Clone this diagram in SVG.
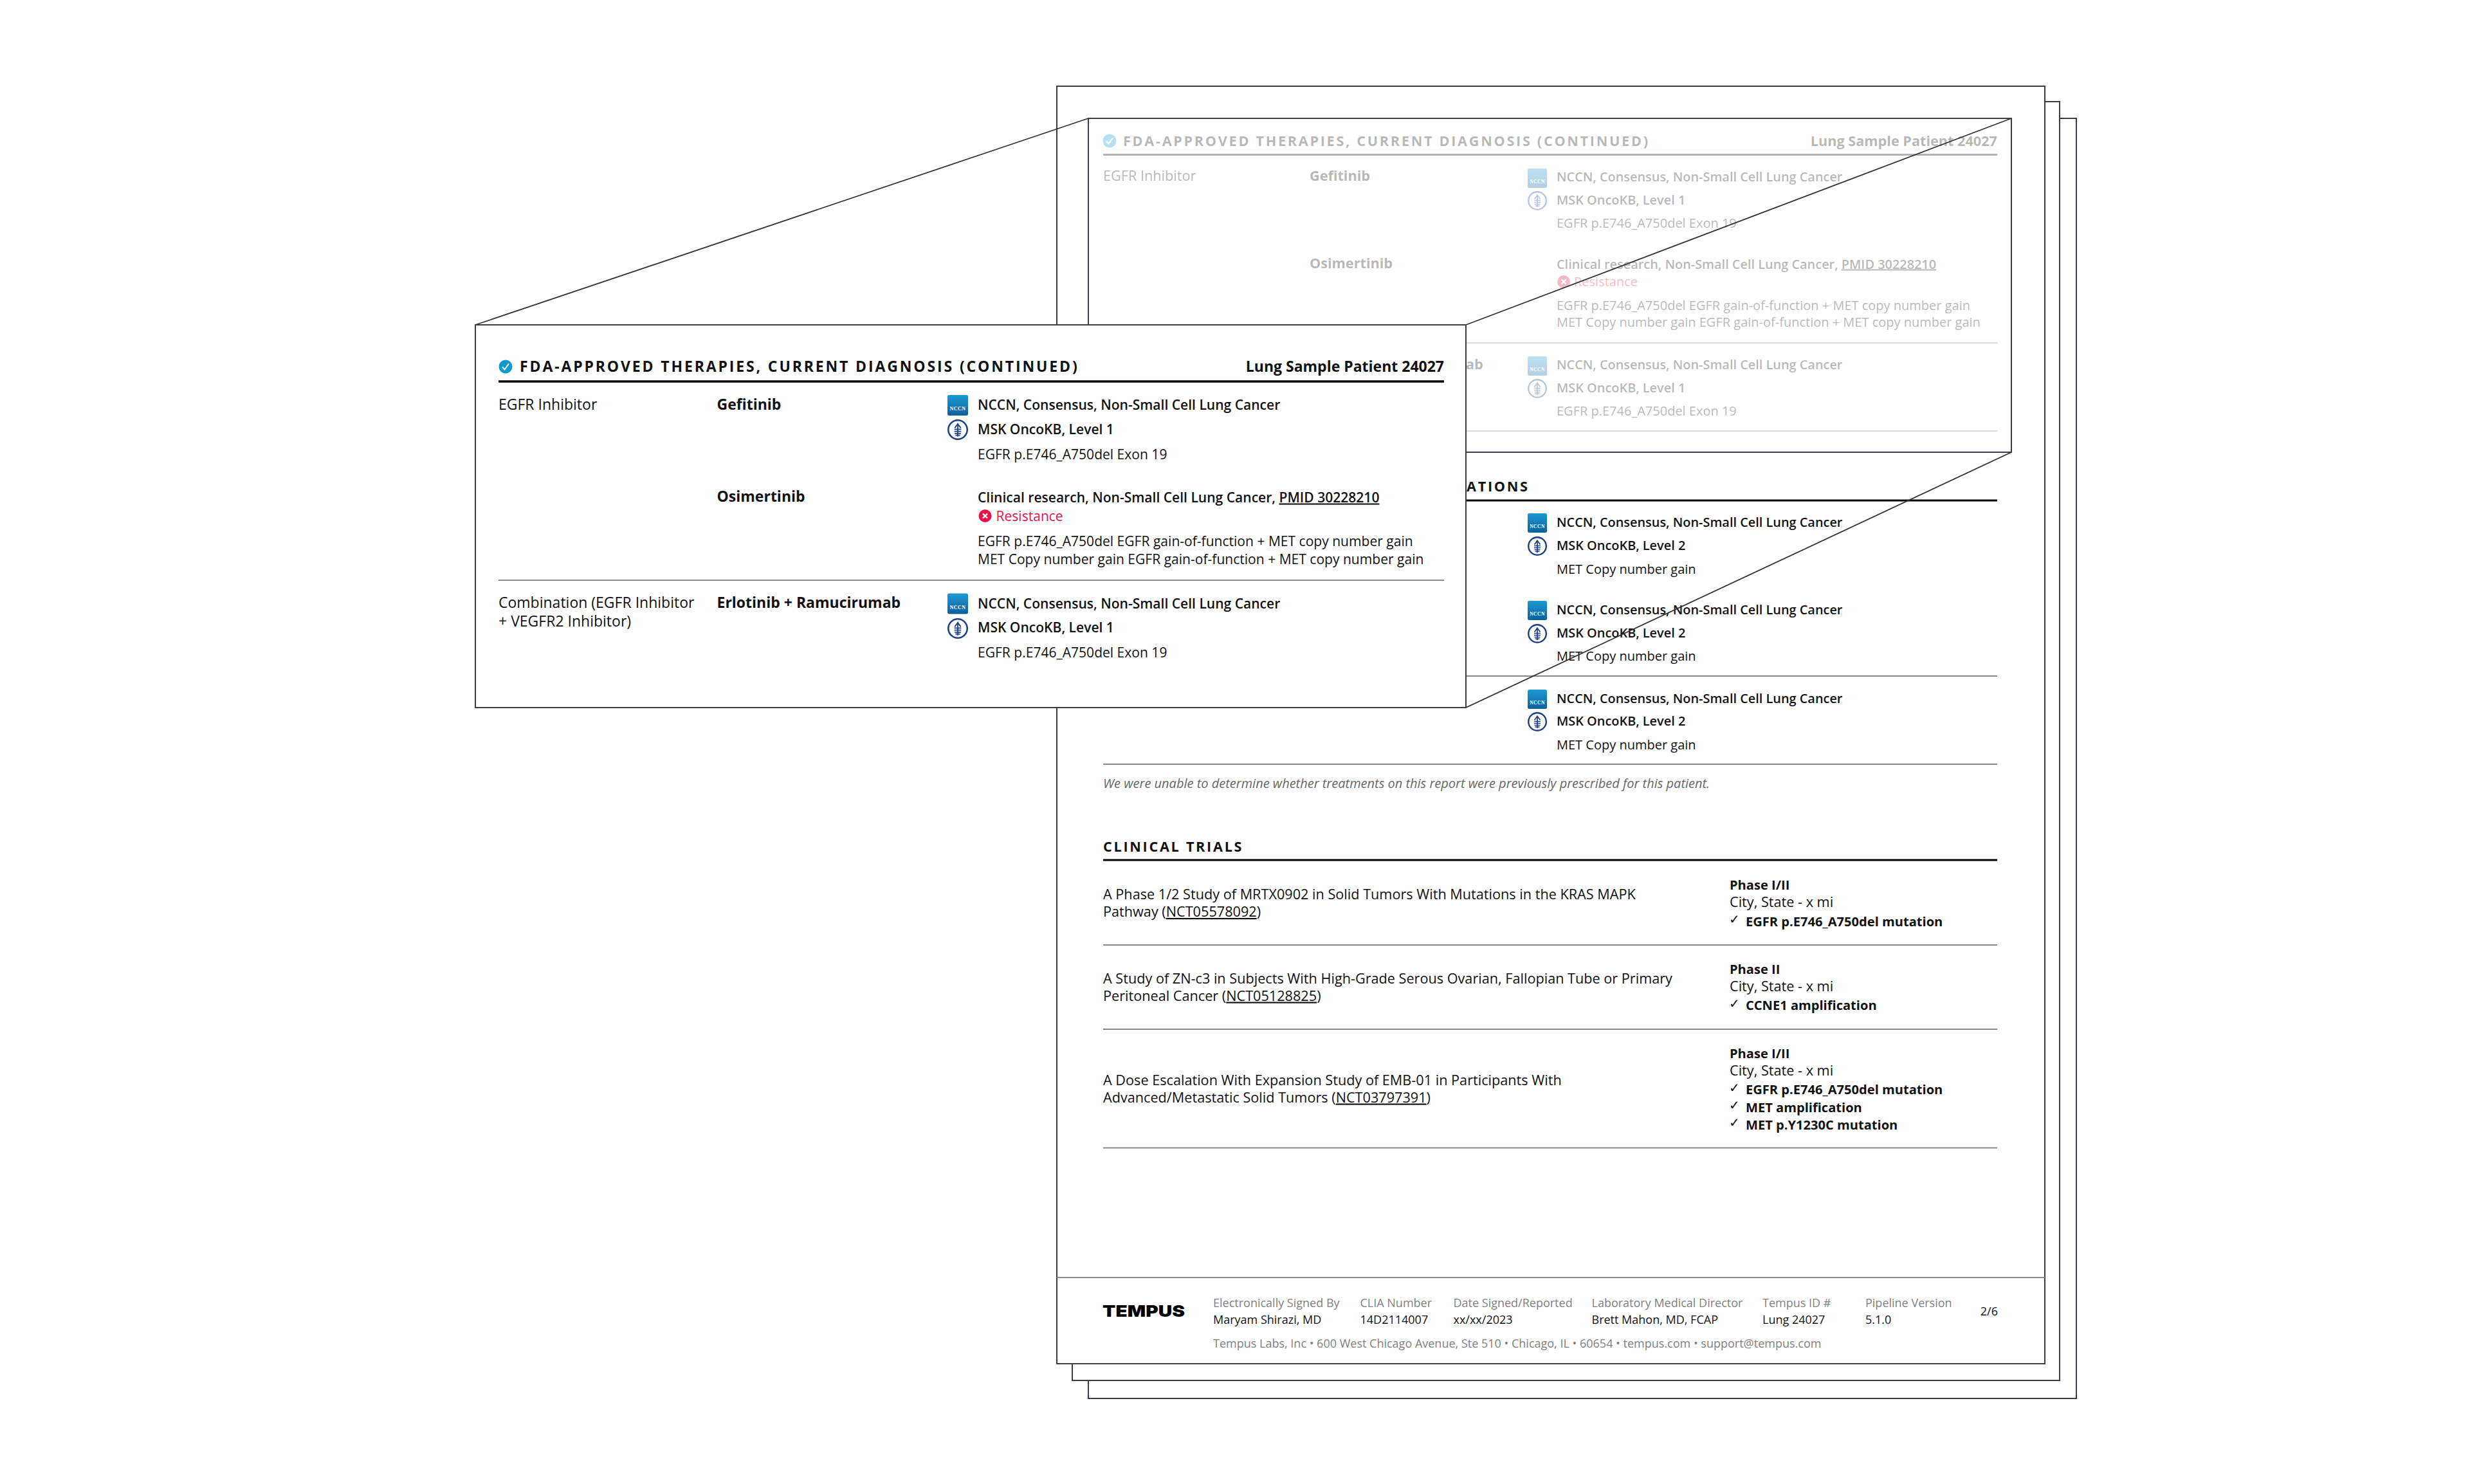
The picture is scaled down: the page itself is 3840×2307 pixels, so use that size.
<svg xmlns="http://www.w3.org/2000/svg" xmlns:xlink="http://www.w3.org/1999/xlink" width="3840" height="2307" viewBox="0 0 3840 2307">
<style>
text{font-family:"Open Sans","Noto Sans",sans-serif;fill:#111}
.pg{fill:#fff;stroke:#3d3d4a;stroke-width:2}
.conn{stroke:#333;stroke-width:1.8;fill:none}
.h{font-weight:700;font-size:21.66px;letter-spacing:2.7px}
.r{font-size:20px}
.l{font-size:21.66px}
.b{font-size:20.1px;font-weight:700}
.B2{font-size:21.66px;font-weight:700}
.s{font-size:19.9px;font-weight:600}
.red{fill:#e8114b}
.i{font-size:20px;font-style:italic;fill:#666}
.fl{font-size:18px;fill:#808080}
.fv{font-size:18px}
.ch{font-family:"DejaVu Sans",sans-serif;font-size:20px;fill:#111}
.ru{stroke:#000;stroke-width:3.2}
.gl{stroke:#888;stroke-width:2}
.H{font-weight:700;font-size:23px;letter-spacing:2.87px}
.R{font-size:21.05px}
.L{font-size:23px}
.B{font-weight:700;font-size:23px}
.S{font-weight:600;font-size:21.05px}
</style>
<defs>
<linearGradient id="ng" x1="0" y1="0" x2="0" y2="1"><stop offset="0" stop-color="#1f9ad6"/><stop offset="1" stop-color="#0b5f9a"/></linearGradient>
<symbol id="nccn" viewBox="0 0 30 30" overflow="visible">
<rect width="30" height="30" rx="2.5" fill="url(#ng)"/>
<text x="15" y="22.5" text-anchor="middle" style="font-family:'Liberation Serif',serif;font-size:7.5px;font-weight:700;fill:#fff;letter-spacing:.5px">NCCN</text>
</symbol>
<symbol id="msk" viewBox="0 0 30 30" overflow="visible">
<circle cx="15" cy="15" r="13.8" fill="#fff" stroke="#1d3f86" stroke-width="2.4"/>
<path d="M15 5.5V25M10.5 12.5L15 6.5L19.5 12.5M10 14.5H20M10 17.5H20M10.5 20.5H19.5M11.5 23H18.5" fill="none" stroke="#1d3f86" stroke-width="1.7"/>
</symbol>
<g id="chk"><circle r="10.5" fill="#0f9ccb"/><path d="M-5 0.5L-1.5 4.5L5 -4.5" fill="none" stroke="#fff" stroke-width="2"/></g>
<g id="xx"><circle r="10" fill="#e8114b"/><path d="M-3.5 -3.5L3.5 3.5M3.5 -3.5L-3.5 3.5" stroke="#fff" stroke-width="2.4"/></g>
</defs>
<rect width="3840" height="2307" fill="#fff"/>
<g id="page-3"><rect class="pg" x="1692" y="184" width="1536" height="1990"/></g>
<g id="page-2"><rect class="pg" x="1667" y="158" width="1535" height="1988"/></g>
<g id="page-1">
<rect class="pg" x="1643" y="134" width="1536" height="1986"/>
<use href="#chk" x="1725" y="219"/>
<text class="h" x="1746" y="227">FDA-APPROVED THERAPIES, CURRENT DIAGNOSIS (CONTINUED)</text>
<text class="B2" x="3105" y="227" text-anchor="end">Lung Sample Patient 24027</text>
<line class="ru" x1="1715" y1="240.5" x2="3105" y2="240.5"/>
<text class="l" x="1715" y="281">EGFR Inhibitor</text>
<text class="B2" x="2036" y="281">Gefitinib</text>
<use href="#nccn" x="2375" y="262" width="30" height="30"/><text class="s" x="2420" y="282">NCCN, Consensus, Non-Small Cell Lung Cancer</text>
<use href="#msk" x="2375" y="297" width="30" height="30"/><text class="s" x="2420" y="318">MSK OncoKB, Level 1</text>
<text class="r" x="2420" y="354">EGFR p.E746_A750del Exon 19</text>
<text class="B2" x="2036" y="417">Osimertinib</text>
<text class="s" x="2420" y="417.5">Clinical research, Non-Small Cell Lung Cancer, <tspan text-decoration="underline">PMID 30228210</tspan></text>
<use href="#xx" x="2431" y="438"/><text class="r red" x="2447" y="445">Resistance</text>
<text class="r" x="2420" y="481.5">EGFR p.E746_A750del EGFR gain-of-function + MET copy number gain</text>
<text class="r" x="2420" y="508">MET Copy number gain EGFR gain-of-function + MET copy number gain</text>
<line class="gl" x1="1715" y1="533" x2="3105" y2="533"/>
<text class="B2" x="2279" y="573.5">ab</text>
<use href="#nccn" x="2375" y="554" width="30" height="30"/><text class="s" x="2420" y="573.5">NCCN, Consensus, Non-Small Cell Lung Cancer</text>
<use href="#msk" x="2375" y="589" width="30" height="30"/><text class="s" x="2420" y="609.5">MSK OncoKB, Level 1</text>
<text class="r" x="2420" y="646">EGFR p.E746_A750del Exon 19</text>
<line class="gl" x1="1715" y1="670" x2="3105" y2="670"/>
<rect x="1692" y="184" width="1435" height="519" fill="#fff" fill-opacity=".7" stroke="#3d3d4a" stroke-width="2"/>
<text class="h" x="2280" y="764">ATIONS</text>
<line class="ru" x1="2279" y1="778" x2="3105" y2="778"/>
<use href="#nccn" x="2375" y="798" width="30" height="30"/><text class="s" x="2420" y="819">NCCN, Consensus, Non-Small Cell Lung Cancer</text>
<use href="#msk" x="2375" y="834" width="30" height="30"/><text class="s" x="2420" y="855">MSK OncoKB, Level 2</text>
<text class="r" x="2420" y="892">MET Copy number gain</text>
<use href="#nccn" x="2375" y="934" width="30" height="30"/><text class="s" x="2420" y="955">NCCN, Consensus, Non-Small Cell Lung Cancer</text>
<use href="#msk" x="2375" y="970" width="30" height="30"/><text class="s" x="2420" y="991">MSK OncoKB, Level 2</text>
<text class="r" x="2420" y="1027">MET Copy number gain</text>
<line class="gl" x1="2279" y1="1051" x2="3105" y2="1051"/>
<use href="#nccn" x="2375" y="1072" width="30" height="30"/><text class="s" x="2420" y="1092.5">NCCN, Consensus, Non-Small Cell Lung Cancer</text>
<use href="#msk" x="2375" y="1107" width="30" height="30"/><text class="s" x="2420" y="1128">MSK OncoKB, Level 2</text>
<text class="r" x="2420" y="1164.5">MET Copy number gain</text>
<line class="gl" x1="1715" y1="1188" x2="3105" y2="1188"/>
<text class="i" x="1715" y="1224.5">We were unable to determine whether treatments on this report were previously prescribed for this patient.</text>
<text class="h" x="1715" y="1323.5">CLINICAL TRIALS</text>
<line class="ru" x1="1715" y1="1337" x2="3105" y2="1337"/>
<text class="l" x="1715" y="1398">A Phase 1/2 Study of MRTX0902 in Solid Tumors With Mutations in the KRAS MAPK</text>
<text class="l" x="1715" y="1425">Pathway (<tspan text-decoration="underline">NCT05578092</tspan>)</text>
<text class="b" x="2689" y="1382.5">Phase I/II</text><text class="l" x="2689" y="1410">City, State - x mi</text>
<text class="ch" x="2688" y="1436">✓</text><text class="b" x="2714" y="1439.5">EGFR p.E746_A750del mutation</text>
<line class="gl" x1="1715" y1="1469" x2="3105" y2="1469"/>
<text class="l" x="1715" y="1528.5">A Study of ZN-c3 in Subjects With High-Grade Serous Ovarian, Fallopian Tube or Primary</text>
<text class="l" x="1715" y="1555.5">Peritoneal Cancer (<tspan text-decoration="underline">NCT05128825</tspan>)</text>
<text class="b" x="2689" y="1513.5">Phase II</text><text class="l" x="2689" y="1541">City, State - x mi</text>
<text class="ch" x="2688" y="1566.5">✓</text><text class="b" x="2714" y="1570">CCNE1 amplification</text>
<line class="gl" x1="1715" y1="1600" x2="3105" y2="1600"/>
<text class="l" x="1715" y="1686.5">A Dose Escalation With Expansion Study of EMB-01 in Participants With</text>
<text class="l" x="1715" y="1713.5">Advanced/Metastatic Solid Tumors (<tspan text-decoration="underline">NCT03797391</tspan>)</text>
<text class="b" x="2689" y="1644.5">Phase I/II</text><text class="l" x="2689" y="1671.5">City, State - x mi</text>
<text class="ch" x="2688" y="1697.5">✓</text><text class="b" x="2714" y="1701">EGFR p.E746_A750del mutation</text>
<text class="ch" x="2688" y="1725">✓</text><text class="b" x="2714" y="1728.5">MET amplification</text>
<text class="ch" x="2688" y="1752">✓</text><text class="b" x="2714" y="1755.5">MET p.Y1230C mutation</text>
<line class="gl" x1="1715" y1="1784.5" x2="3105" y2="1784.5"/>
<line class="gl" x1="1643" y1="1986" x2="3179" y2="1986"/>
<text x="1714" y="2047" textLength="128" lengthAdjust="spacingAndGlyphs" style="font-family:Inter,sans-serif;font-weight:900;font-size:25px;fill:#000">TEMPUS</text>
<text class="fl" x="1886" y="2031.5">Electronically Signed By</text><text class="fv" x="1886" y="2058">Maryam Shirazi, MD</text>
<text class="fl" x="2114.5" y="2031.5">CLIA Number</text><text class="fv" x="2114.5" y="2058">14D2114007</text>
<text class="fl" x="2259.5" y="2031.5">Date Signed/Reported</text><text class="fv" x="2259.5" y="2058">xx/xx/2023</text>
<text class="fl" x="2474.5" y="2031.5">Laboratory Medical Director</text><text class="fv" x="2474.5" y="2058">Brett Mahon, MD, FCAP</text>
<text class="fl" x="2740" y="2031.5">Tempus ID #</text><text class="fv" x="2740" y="2058">Lung 24027</text>
<text class="fl" x="2900" y="2031.5">Pipeline Version</text><text class="fv" x="2900" y="2058">5.1.0</text>
<text class="fv" x="3106" y="2045" text-anchor="end">2/6</text>
<text class="fl" x="1886" y="2095">Tempus Labs, Inc • 600 West Chicago Avenue, Ste 510 • Chicago, IL • 60654 • tempus.com • support@tempus.com</text>
</g>
<g id="connectors">
<line class="conn" x1="739" y1="505" x2="1692" y2="184"/>
<line class="conn" x1="2279" y1="505" x2="3127" y2="184"/>
<line class="conn" x1="2279" y1="1100" x2="3127" y2="703"/>
</g>
<g id="callout">
<rect class="pg" x="739" y="505" width="1540" height="595"/>
<use href="#chk" x="786" y="570"/>
<text class="H" x="808" y="578">FDA-APPROVED THERAPIES, CURRENT DIAGNOSIS (CONTINUED)</text>
<text class="B" x="2245" y="578" text-anchor="end">Lung Sample Patient 24027</text>
<line x1="775" y1="593" x2="2245" y2="593" stroke="#000" stroke-width="3.5"/>
<text class="L" x="775" y="637">EGFR Inhibitor</text>
<text class="B" x="1114.5" y="637">Gefitinib</text>
<use href="#nccn" x="1473" y="614" width="32" height="32"/><text class="S" x="1520" y="637">NCCN, Consensus, Non-Small Cell Lung Cancer</text>
<use href="#msk" x="1473" y="652" width="32" height="32"/><text class="S" x="1520" y="675">MSK OncoKB, Level 1</text>
<text class="R" x="1520" y="713.5">EGFR p.E746_A750del Exon 19</text>
<text class="B" x="1114.5" y="780">Osimertinib</text>
<text class="S" x="1520" y="780.5">Clinical research, Non-Small Cell Lung Cancer, <tspan text-decoration="underline">PMID 30228210</tspan></text>
<use href="#xx" x="1531.5" y="802"/><text class="R red" x="1548.5" y="810">Resistance</text>
<text class="R" x="1520" y="848.5">EGFR p.E746_A750del EGFR gain-of-function + MET copy number gain</text>
<text class="R" x="1520" y="877">MET Copy number gain EGFR gain-of-function + MET copy number gain</text>
<line x1="775" y1="902" x2="2245" y2="902" stroke="#888" stroke-width="2"/>
<text class="L" x="775" y="945">Combination (EGFR Inhibitor</text>
<text class="L" x="775" y="973.5">+ VEGFR2 Inhibitor)</text>
<text class="B" x="1114.5" y="945">Erlotinib + Ramucirumab</text>
<use href="#nccn" x="1473" y="922.5" width="32" height="32"/><text class="S" x="1520" y="945.5">NCCN, Consensus, Non-Small Cell Lung Cancer</text>
<use href="#msk" x="1473" y="961" width="32" height="32"/><text class="S" x="1520" y="983">MSK OncoKB, Level 1</text>
<text class="R" x="1520" y="1021.5">EGFR p.E746_A750del Exon 19</text>
</g>
</svg>
